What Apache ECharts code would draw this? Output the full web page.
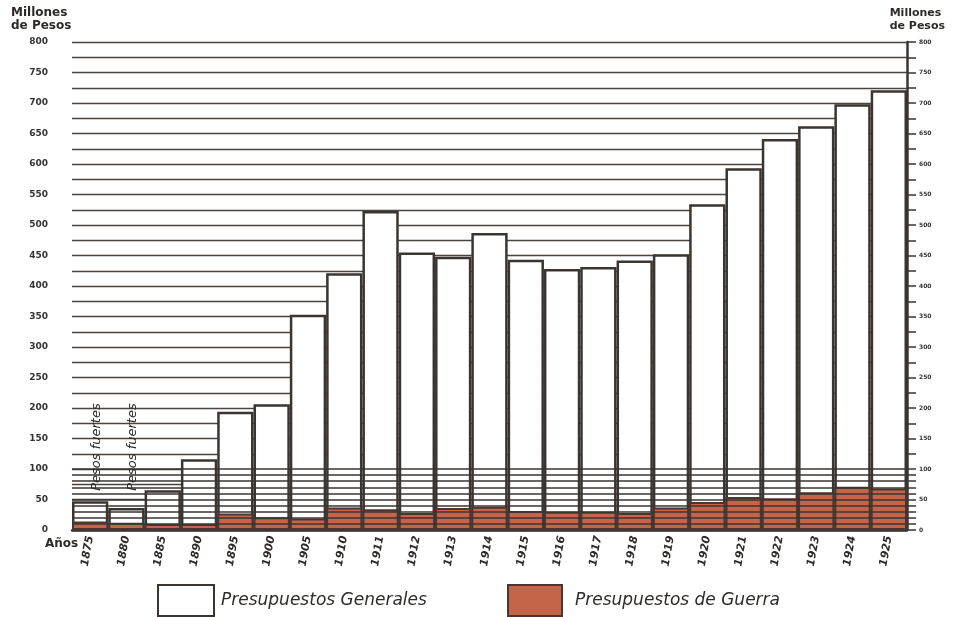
<!DOCTYPE html>
<html>
<head>
<meta charset="utf-8">
<script src="https://cdn.jsdelivr.net/npm/echarts@6/dist/echarts.min.js"></script>
<style>
html,body{margin:0;padding:0;background:#fff;}
#chart{width:953px;height:617px;}
</style>
</head>
<body>
<div id="chart"></div>
<script>
var years = ['1875','1880','1885','1890','1895','1900','1905','1910','1911','1912','1913','1914','1915','1916','1917','1918','1919','1920','1921','1922','1923','1924','1925'];
var generalBudget = [47, 36, 65, 116, 194, 206, 353, 421, 523, 455, 448, 487, 443, 428, 431, 442, 452, 534, 593, 641, 662, 698, 721];
var warBudget = [14, 12, 10, 10, 27, 21, 19, 37, 34, 28, 36, 38, 31, 30, 30, 28, 37, 46, 54, 52, 62, 71, 68];
var leftLabels = [0,50,100,150,200,250,300,350,400,450,500,550,600,650,700,750,800];
var rightTicks = [0,10,20,30,40,50,60,70,80,90,100,125,150,175,200,225,250,275,300,325,350,375,400,425,450,475,500,525,550,575,600,625,650,675,700,725,750,775,800];
var fineLines = [10,20,30,40,50,60,70,80,90,100];
var annotation = 'Pesos fuertes';
var annotated = [['1875',136],['1880',136]];

var ink = '#3b3532';
var hand = "'DejaVu Sans', sans-serif";

var chart = echarts.init(document.getElementById('chart'));
chart.setOption({
  animation: false,
  backgroundColor: '#fff',
  title: [
    {text: 'Millones\nde Pesos', left: 6, top: 1, textStyle: {fontFamily: hand, fontWeight: 'bold', fontSize: 12, lineHeight: 13, color: '#2e2a28'}},
    {text: 'Millones\nde Pesos', right: 3, top: 2, textStyle: {fontFamily: hand, fontWeight: 'bold', fontSize: 11, lineHeight: 13, color: '#2e2a28'}},
    {text: 'Años', left: 40, top: 533, textStyle: {fontFamily: hand, fontWeight: 'bold', fontSize: 12, color: '#2e2a28'}}
  ],
  legend: [
    {data: ['Presupuestos Generales'], left: 152, top: 579, icon: 'rect', itemWidth: 56, itemHeight: 31, itemGap: 10,
     textStyle: {fontFamily: hand, fontStyle: 'italic', fontSize: 17, color: '#2e2a28', padding:[0,0,0,2]}},
    {data: ['Presupuestos de Guerra'], left: 502, top: 579, icon: 'rect', itemWidth: 54, itemHeight: 31, itemGap: 10,
     textStyle: {fontFamily: hand, fontStyle: 'italic', fontSize: 17, color: '#2e2a28', padding:[0,0,0,8]}}
  ],
  grid: {left: 72, right: 46, top: 42, bottom: 87},
  xAxis: {
    type: 'category',
    data: years,
    axisLine: {show: true, lineStyle: {color: ink, width: 2.5}},
    axisTick: {show: false},
    axisLabel: {rotate: 80, margin: 6, fontFamily: hand, fontStyle: 'italic', fontWeight: 'bold', fontSize: 11, color: '#2e2a28'}
  },
  yAxis: [
    {
      type: 'value', min: 0, max: 800, interval: 25,
      axisLine: {show: false}, axisTick: {show: false},
      axisLabel: {margin: 24, fontFamily: hand, fontWeight: 'bold', fontSize: 9, color: '#333',
        formatter: function (v) { return leftLabels.indexOf(v) >= 0 ? String(v) : ''; }},
      splitLine: {show: true, lineStyle: {color: '#4a4441', width: 1.3}}
    },
    {
      type: 'value', min: 0, max: 800, interval: 25, position: 'right',
      axisLine: {show: true, lineStyle: {color: ink, width: 2.5}},
      axisTick: {show: true, length: 9, inside: false, lineStyle: {color: ink, width: 1.5}, customValues: rightTicks},
      axisLabel: {margin: 12, fontFamily: hand, fontWeight: 'bold', fontSize: 6, color: '#333', customValues: leftLabels},
      splitLine: {show: false}
    }
  ],
  series: [
    {
      name: 'Presupuestos Generales',
      type: 'bar',
      data: generalBudget,
      barCategoryGap: '0%',
      barGap: '-100%',
      itemStyle: {color: '#ffffff', borderColor: ink, borderWidth: 2.5},
      markPoint: {
        symbol: 'rect', symbolSize: 1, silent: true,
        itemStyle: {color: 'rgba(0,0,0,0)'},
        label: {show: true, formatter: annotation, rotate: 90, position: 'inside', offset: [0, 6],
          fontFamily: hand, fontStyle: 'italic', fontSize: 13, color: '#2e2a28'},
        data: annotated.map(function (a) { return {coord: a}; })
      }
    },
    {
      name: 'Presupuestos de Guerra',
      type: 'bar',
      data: warBudget,
      barCategoryGap: '0%',
      barGap: '-100%',
      itemStyle: {color: '#c4654a', borderColor: '#4a3630', borderWidth: 2},
      markLine: {
        silent: true, symbol: ['none', 'none'], z: 5,
        label: {show: false},
        lineStyle: {color: ink, width: 1.6, type: 'solid'},
        data: fineLines.map(function (v) { return {yAxis: v}; })
      }
    }
  ]
});
</script>
</body>
</html>
